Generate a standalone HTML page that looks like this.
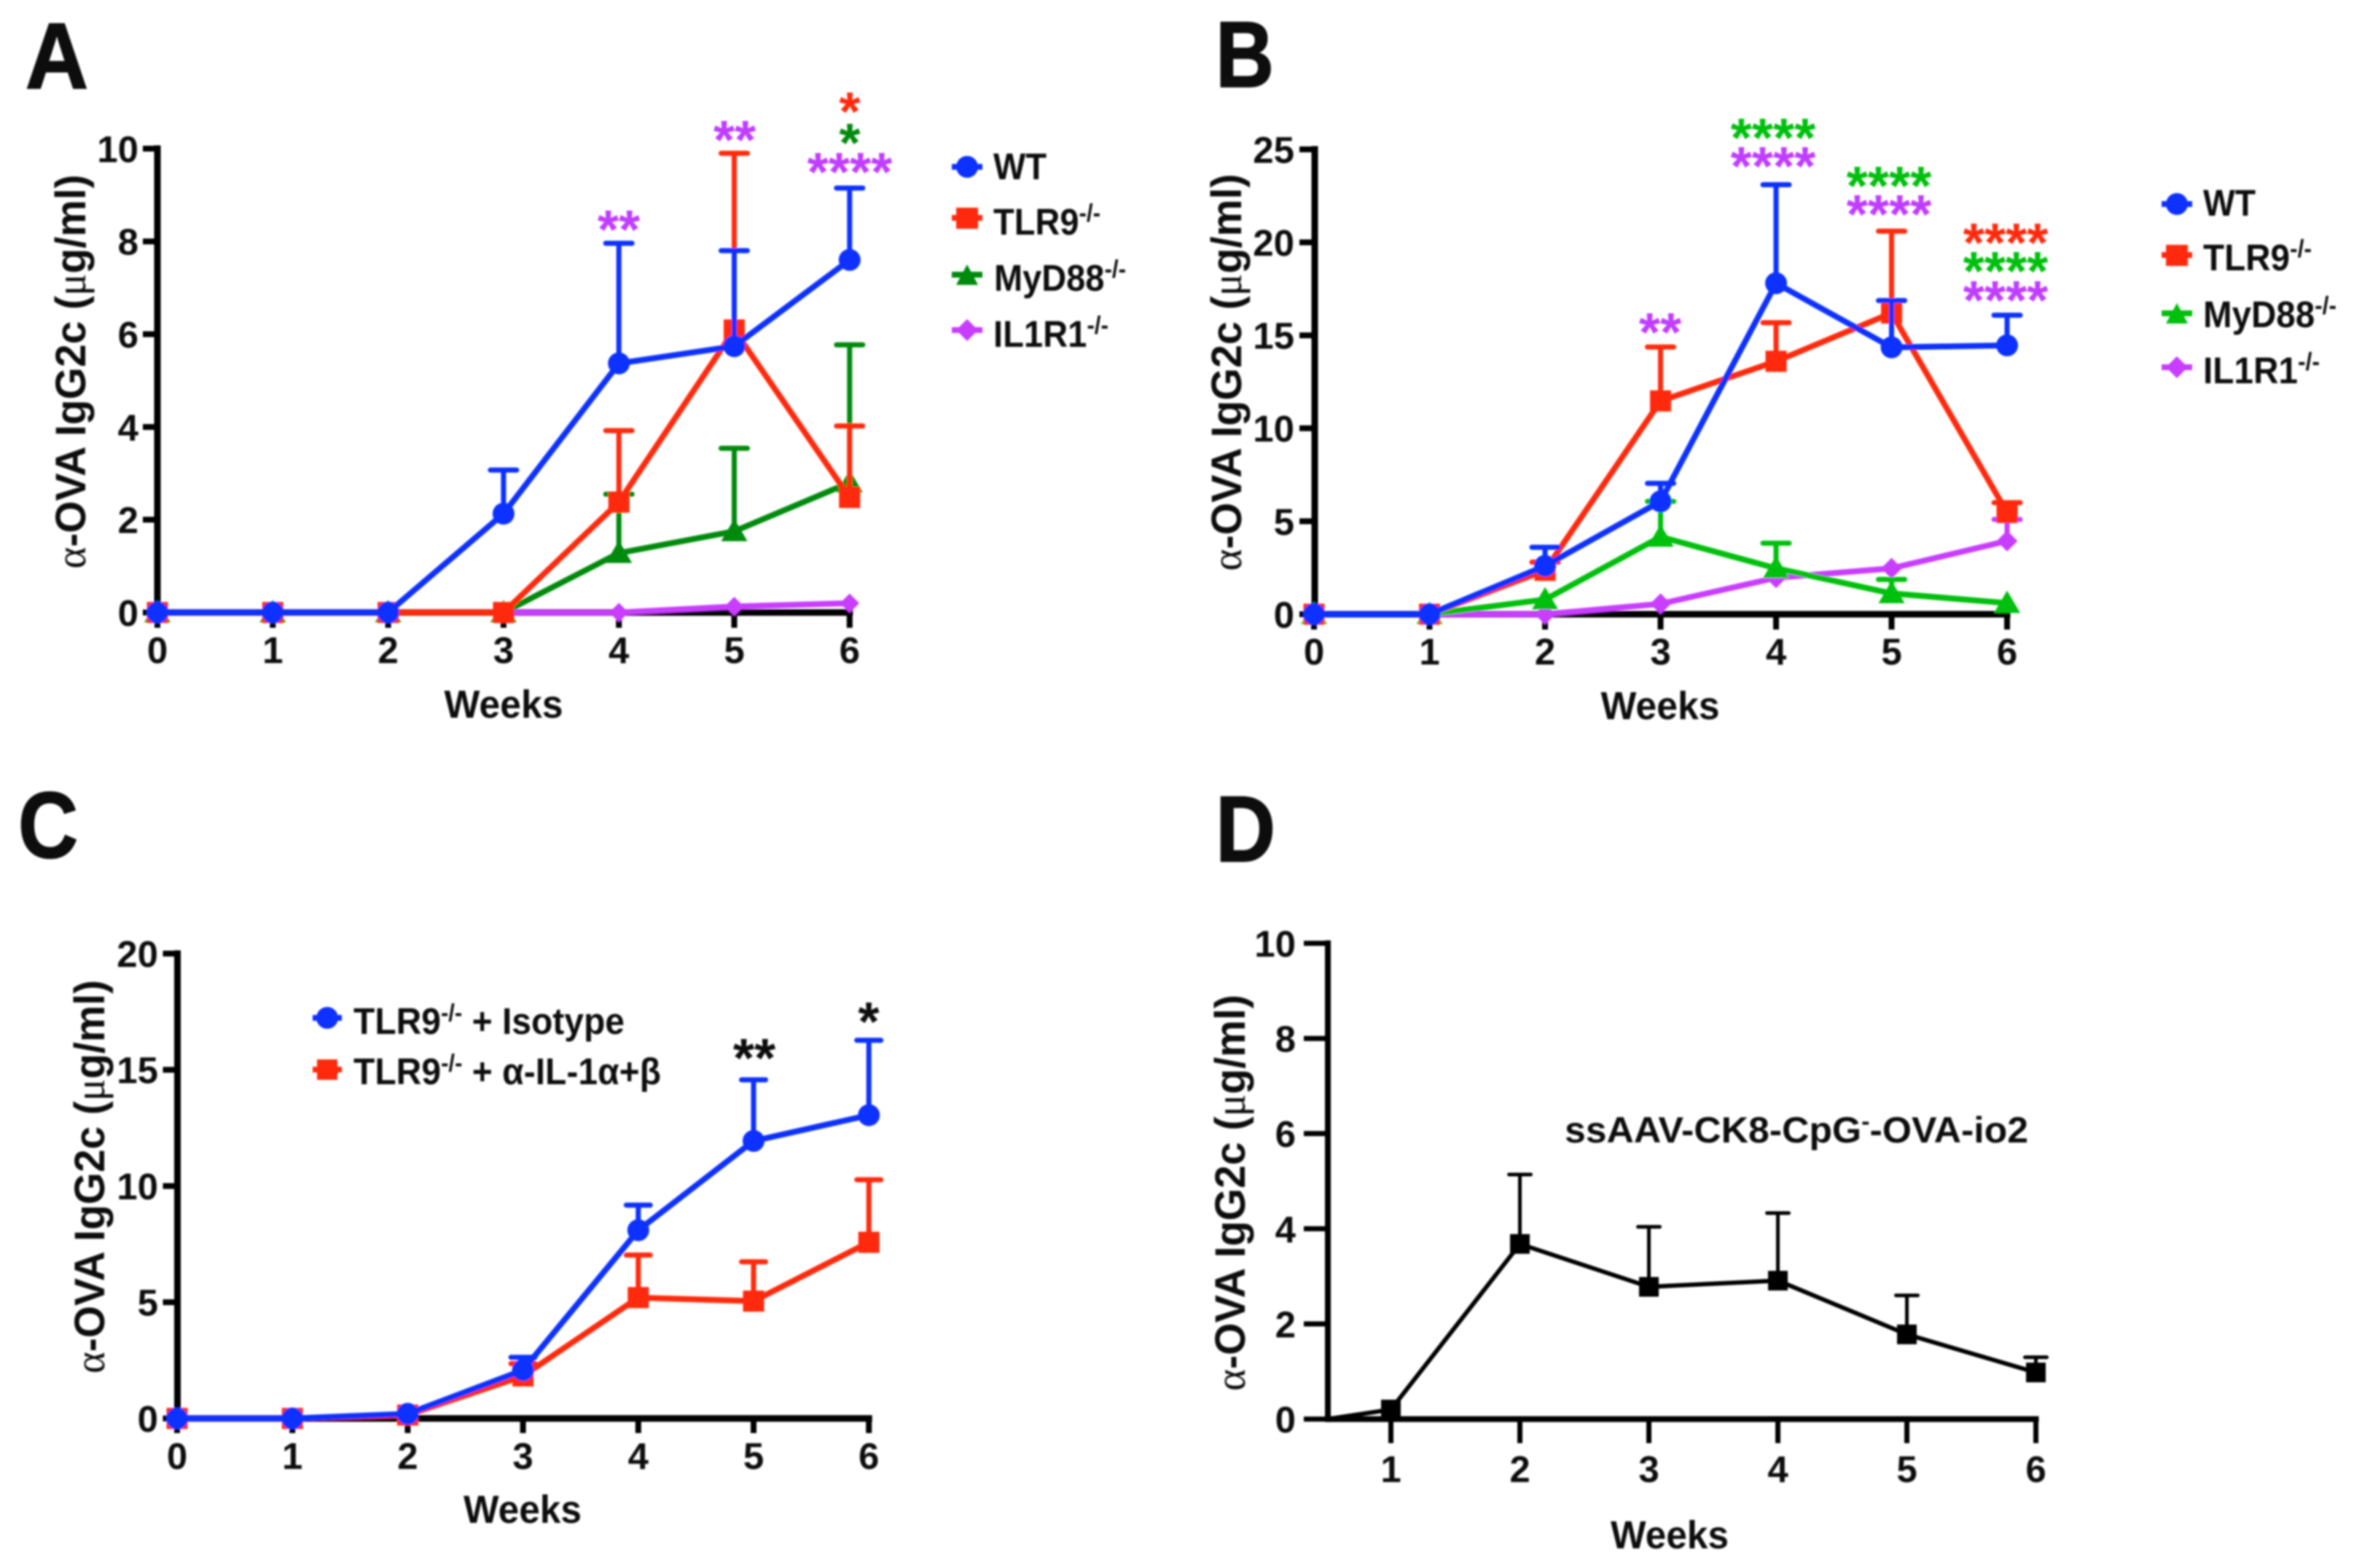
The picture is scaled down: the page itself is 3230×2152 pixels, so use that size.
<!DOCTYPE html>
<html lang="en">
<head>
<meta charset="utf-8">
<title>Anti-OVA IgG2c time courses</title>
<style>
html,body{margin:0;padding:0;background:#fff;}
svg{display:block;}
text{font-family:"Liberation Sans",sans-serif;font-weight:bold;fill:#111;}
.sym{font-family:"Liberation Serif",serif;font-weight:normal;}
.letter{font-size:128px;stroke:#111;stroke-width:2px;}
.title{font-size:58px;}
.weeks{font-size:54px;text-anchor:middle;}
.leg{font-size:51px;}
.star{font-size:75px;text-anchor:middle;}
</style>
</head>
<body>
<svg id="fig" xmlns="http://www.w3.org/2000/svg" width="3230" height="2152" viewBox="0 0 3230 2152">
<defs><filter id="soft" x="0" y="0" width="100%" height="100%"><feGaussianBlur stdDeviation="1.3"/></filter></defs>
<rect width="3230" height="2152" fill="#fff"/>
<g id="root" filter="url(#soft)">
  <g id="plots"></g>

  <text class="letter" x="35" y="121" textLength="86" lengthAdjust="spacingAndGlyphs">A</text>
  <text class="letter" x="1668" y="119" textLength="80" lengthAdjust="spacingAndGlyphs">B</text>
  <text class="letter" x="25" y="1177" textLength="82" lengthAdjust="spacingAndGlyphs">C</text>
  <text class="letter" x="1668" y="1182" textLength="82" lengthAdjust="spacingAndGlyphs">D</text>

  <text class="title" transform="translate(117,510) rotate(-90)" text-anchor="middle" textLength="541" lengthAdjust="spacingAndGlyphs"><tspan class="sym">α</tspan>-OVA IgG2c (<tspan class="sym">μ</tspan>g/ml)</text>
  <text class="title" transform="translate(1703,511) rotate(-90)" text-anchor="middle" textLength="545" lengthAdjust="spacingAndGlyphs"><tspan class="sym">α</tspan>-OVA IgG2c (<tspan class="sym">μ</tspan>g/ml)</text>
  <text class="title" transform="translate(143,1615) rotate(-90)" text-anchor="middle" textLength="540" lengthAdjust="spacingAndGlyphs"><tspan class="sym">α</tspan>-OVA IgG2c (<tspan class="sym">μ</tspan>g/ml)</text>
  <text class="title" transform="translate(1708,1637) rotate(-90)" text-anchor="middle" textLength="544" lengthAdjust="spacingAndGlyphs"><tspan class="sym">α</tspan>-OVA IgG2c (<tspan class="sym">μ</tspan>g/ml)</text>

  <text class="weeks" x="691" y="985" textLength="163" lengthAdjust="spacingAndGlyphs">Weeks</text>
  <text class="weeks" x="2278" y="987" textLength="163" lengthAdjust="spacingAndGlyphs">Weeks</text>
  <text class="weeks" x="717" y="2090" textLength="162" lengthAdjust="spacingAndGlyphs">Weeks</text>
  <text class="weeks" x="2291" y="2125" textLength="162" lengthAdjust="spacingAndGlyphs">Weeks</text>

  <g>
    <g>
      <line x1="1306" x2="1348" y1="229" y2="229" stroke="#0a32ff" stroke-width="8"/>
      <circle cx="1327" cy="229" r="15" fill="#0a32ff"/>
      <text class="leg" x="1363" y="246" textLength="73" lengthAdjust="spacingAndGlyphs">WT</text>
    </g>
    <g>
      <line x1="1306" x2="1348" y1="299" y2="299" stroke="#ff2a0c" stroke-width="8"/>
      <rect x="1312" y="285" width="30" height="29" fill="#ff2a0c"/>
      <text class="leg" x="1363" y="322" textLength="147" lengthAdjust="spacingAndGlyphs">TLR9<tspan dy="-18" font-size="34">-/-</tspan></text>
    </g>
    <g>
      <line x1="1306" x2="1348" y1="377" y2="377" stroke="#068a0c" stroke-width="8"/>
      <path d="M1327 363L1342 391H1312Z" fill="#068a0c"/>
      <text class="leg" x="1364" y="399" textLength="181" lengthAdjust="spacingAndGlyphs">MyD88<tspan dy="-18" font-size="34">-/-</tspan></text>
    </g>
    <g>
      <line x1="1306" x2="1348" y1="453" y2="453" stroke="#c83cff" stroke-width="8"/>
      <path d="M1327 438L1342 453L1327 468L1312 453Z" fill="#c83cff"/>
      <text class="leg" x="1363" y="476" textLength="158" lengthAdjust="spacingAndGlyphs">IL1R1<tspan dy="-18" font-size="34">-/-</tspan></text>
    </g>
  </g>

  <g>
    <g>
      <line x1="2966" x2="3008" y1="280" y2="280" stroke="#0a32ff" stroke-width="8"/>
      <circle cx="2987" cy="280" r="15" fill="#0a32ff"/>
      <text class="leg" x="3023" y="296" textLength="72" lengthAdjust="spacingAndGlyphs">WT</text>
    </g>
    <g>
      <line x1="2966" x2="3008" y1="350" y2="350" stroke="#ff2a0c" stroke-width="8"/>
      <rect x="2972" y="336" width="30" height="29" fill="#ff2a0c"/>
      <text class="leg" x="3023" y="371" textLength="149" lengthAdjust="spacingAndGlyphs">TLR9<tspan dy="-18" font-size="34">-/-</tspan></text>
    </g>
    <g>
      <line x1="2966" x2="3008" y1="430" y2="430" stroke="#06c00c" stroke-width="8"/>
      <path d="M2987 416L3002 444H2972Z" fill="#06c00c"/>
      <text class="leg" x="3023" y="449" textLength="183" lengthAdjust="spacingAndGlyphs">MyD88<tspan dy="-18" font-size="34">-/-</tspan></text>
    </g>
    <g>
      <line x1="2966" x2="3008" y1="504" y2="504" stroke="#c83cff" stroke-width="8"/>
      <path d="M2987 489L3002 504L2987 519L2972 504Z" fill="#c83cff"/>
      <text class="leg" x="3023" y="526" textLength="160" lengthAdjust="spacingAndGlyphs">IL1R1<tspan dy="-18" font-size="34">-/-</tspan></text>
    </g>
  </g>

  <g>
    <g>
      <line x1="429" x2="469" y1="1397" y2="1397" stroke="#0a32ff" stroke-width="8"/>
      <circle cx="449" cy="1397" r="15" fill="#0a32ff"/>
      <text class="leg" x="485" y="1419" font-size="50" textLength="372" lengthAdjust="spacingAndGlyphs">TLR9<tspan dy="-18" font-size="33">-/-</tspan><tspan dy="18"> + Isotype</tspan></text>
    </g>
    <g>
      <line x1="429" x2="469" y1="1468" y2="1468" stroke="#ff2a0c" stroke-width="8"/>
      <rect x="435" y="1454" width="28" height="28" fill="#ff2a0c"/>
      <text class="leg" x="485" y="1488" font-size="50" textLength="422" lengthAdjust="spacingAndGlyphs">TLR9<tspan dy="-18" font-size="33">-/-</tspan><tspan dy="18"> + α-IL-1α+β</tspan></text>
    </g>
  </g>

  <text font-size="50" x="2147" y="1568" textLength="636" lengthAdjust="spacingAndGlyphs">ssAAV-CK8-CpG<tspan dy="-18" font-size="33">-</tspan><tspan dy="18">-OVA-io2</tspan></text>

  <g>
    <text class="star" style="fill:#c03cff" x="849" y="341">**</text>
    <text class="star" style="fill:#c03cff" x="1008" y="218">**</text>
    <text class="star" style="fill:#ff2a0c" x="1166" y="179">*</text>
    <text class="star" style="fill:#068a0c" x="1166" y="222">*</text>
    <text class="star" style="fill:#c03cff" x="1166" y="262">****</text>
  </g>
  <g>
    <text class="star" style="fill:#c03cff" x="2278" y="482">**</text>
    <text class="star" style="fill:#06c00c" x="2433" y="215">****</text>
    <text class="star" style="fill:#c03cff" x="2433" y="254">****</text>
    <text class="star" style="fill:#06c00c" x="2592" y="281">****</text>
    <text class="star" style="fill:#c03cff" x="2592" y="320">****</text>
    <text class="star" style="fill:#ff2a0c" x="2752" y="359">****</text>
    <text class="star" style="fill:#06c00c" x="2752" y="398">****</text>
    <text class="star" style="fill:#c03cff" x="2752" y="438">****</text>
  </g>
  <g>
    <text class="star" x="1035" y="1478">**</text>
    <text class="star" x="1192" y="1428">*</text>
  </g>
</g>
</svg>
<script>
// Panel A data (ug/ml)
const weeksA = [0, 1, 2, 3, 4, 5, 6];
const yTicksA = [0, 2, 4, 6, 8, 10];
const wtA = [0, 0, 0, 2.13, 5.37, 5.74, 7.6];
const wtATop = [null, null, null, 3.07, 7.96, 7.8, 9.15];
const tlr9A = [0, 0, 0, 0, 2.38, 6.09, 2.48];
const tlr9ATop = [null, null, null, null, 3.92, 9.9, 4.02];
const myd88A = [0, 0, 0, 0, 1.28, 1.75, 2.8];
const myd88ATop = [null, null, null, null, 2.55, 3.54, 5.77];
const il1r1A = [0, 0, 0, 0, 0, 0.13, 0.2];
const il1r1ATop = [null, null, null, null, null, null, null];

// Panel B data
const weeksB = [0, 1, 2, 3, 4, 5, 6];
const yTicksB = [0, 5, 10, 15, 20, 25];
const wtB = [0, 0, 2.6, 6.07, 17.8, 14.35, 14.46];
const wtBTop = [null, null, 3.6, 7.04, 23.1, 16.87, 16.08];
const tlr9B = [0, 0, 2.36, 11.47, 13.6, 16.2, 5.47];
const tlr9BTop = [null, null, 2.8, 14.37, 15.68, 20.6, 6.0];
const myd88B = [0, 0, 0.79, 4.16, 2.47, 1.12, 0.6];
const myd88BTop = [null, null, null, 6.07, 3.82, 1.87, null];
const il1r1B = [0, 0, 0, 0.56, 1.96, 2.47, 3.94];
const il1r1BTop = [null, null, null, null, null, null, 5.1];

// Panel C data
const weeksC = [0, 1, 2, 3, 4, 5, 6];
const yTicksC = [0, 5, 10, 15, 20];
const isotypeC = [0, 0, 0.2, 2.08, 8.1, 11.94, 13.05];
const isotypeCTop = [null, null, null, 2.63, 9.18, 14.57, 16.27];
const antiIl1C = [0, 0, 0.15, 1.83, 5.2, 5.05, 7.58];
const antiIl1CTop = [null, null, null, 2.36, 7.03, 6.74, 10.27];

// Panel D data
const weeksD = [0.51, 1, 2, 3, 4, 5, 6];
const xTicksD = [1, 2, 3, 4, 5, 6];
const yTicksD = [0, 2, 4, 6, 8, 10];
const vectorD = [0, 0.2, 3.68, 2.78, 2.91, 1.78, 0.98];
const vectorDTop = [null, null, 5.14, 4.04, 4.33, 2.6, 1.3];

const BLUE = '#0a32ff', RED = '#ff2a0c', DGREEN = '#068a0c', LGREEN = '#06c00c', PURPLE = '#c83cff', BLACK = '#000';
const NS = 'http://www.w3.org/2000/svg';
const plots = document.getElementById('plots');

function make(tag, attrs, parent) {
  const node = document.createElementNS(NS, tag);
  for (const k in attrs) node.setAttribute(k, attrs[k]);
  parent.appendChild(node);
  return node;
}

function markerPath(kind, cx, cy, s) {
  if (kind === 'square') return `M${cx-s} ${cy-s}H${cx+s}V${cy+s}H${cx-s}Z`;
  if (kind === 'triangle') return `M${cx} ${cy-s*1.15}L${cx+s*1.2} ${cy+s*0.9}H${cx-s*1.2}Z`;
  if (kind === 'diamond') return `M${cx} ${cy-s*1.1}L${cx+s*1.1} ${cy}L${cx} ${cy+s*1.1}L${cx-s*1.1} ${cy}Z`;
  return `M${cx-s} ${cy}A${s} ${s} 0 1 0 ${cx+s} ${cy}A${s} ${s} 0 1 0 ${cx-s} ${cy}Z`;
}

function drawPanel(p) {
  const xScale = w => p.x0 + (w - p.xFirst) * p.xStep;
  const yScale = v => p.y0 - v * p.yUnit;
  const g = make('g', {}, plots);
  
  

  const yAxis = make('line', {x1: p.axisX, x2: p.axisX, y1: yScale(p.yTicks[p.yTicks.length - 1]) - p.axisW / 2, y2: p.y0 + p.axisW / 2, stroke: '#000', 'stroke-width': p.axisW}, g);
  
  
  const xAxis = make('line', {x1: p.axisX, x2: xScale(p.xTicks[p.xTicks.length - 1]) + p.axisW / 2, y1: p.y0, y2: p.y0, stroke: '#000', 'stroke-width': p.axisW}, g);
  
  

  p.yTicks.forEach(t => {
    const tick = make('line', {x1: p.axisX - p.yTickLen, x2: p.axisX, y1: yScale(t), y2: yScale(t), stroke: '#000', 'stroke-width': p.axisW - 1}, g);
    
    
    const label = make('text', {x: p.yLabelX, y: yScale(t) + p.tickFont * 0.36, 'text-anchor': 'end', 'font-size': p.tickFont}, g);
    
    
    label.textContent = t;
  });
  p.xTicks.forEach(t => {
    const tick = make('line', {x1: xScale(t), x2: xScale(t), y1: p.y0, y2: p.y0 + p.xTickLen, stroke: '#000', 'stroke-width': p.axisW - 1}, g);
    
    
    const label = make('text', {x: xScale(t), y: p.xLabelY, 'text-anchor': 'middle', 'font-size': p.tickFont}, g);
    
    
    label.textContent = t;
  });

  p.series.forEach(s => {
    const sg = make('g', {}, g);
    
    

    s.tops.forEach((top, i) => {
      if (top === null) return;
      const x = xScale(p.weeks[i]);
      const stem = make('line', {x1: x, x2: x, y1: yScale(s.values[i]), y2: yScale(top), stroke: s.color, 'stroke-width': p.stemW}, sg);
      
      
      const cap = make('line', {x1: x - p.capW / 2, x2: x + p.capW / 2, y1: yScale(top), y2: yScale(top), stroke: s.color, 'stroke-width': p.stemW, 'stroke-linecap': 'round'}, sg);
      
      
    });

    const pts = s.values.map((v, i) => xScale(p.weeks[i]) + ',' + yScale(v)).join(' ');
    const line = make('polyline', {points: pts, fill: 'none', stroke: s.color, 'stroke-width': p.lineW, 'stroke-linejoin': 'round'}, sg);
    
    

    s.values.forEach((v, i) => {
      if (p.skipFirstMarker && i === 0) return;
      const m = make('path', {d: markerPath(s.marker, xScale(p.weeks[i]), yScale(v), s.size), fill: s.color}, sg);
      
      
    });
  });
}

drawPanel({id: 'a', x0: 216, xFirst: 0, xStep: 158.3, y0: 840.6, yUnit: 63.66, axisX: 216, axisW: 9, yTickLen: 20, xTickLen: 21,
  yLabelX: 190, xLabelY: 910, tickFont: 51, stemW: 7, capW: 36, lineW: 8, weeks: weeksA, xTicks: weeksA, yTicks: yTicksA,
  series: [
    {name: 'il1r1', color: PURPLE, values: il1r1A, tops: il1r1ATop, marker: 'diamond', size: 12},
    {name: 'myd88', color: DGREEN, values: myd88A, tops: myd88ATop, marker: 'triangle', size: 15},
    {name: 'tlr9', color: RED, values: tlr9A, tops: tlr9ATop, marker: 'square', size: 14.5},
    {name: 'wt', color: BLUE, values: wtA, tops: wtATop, marker: 'circle', size: 15}
  ]});

drawPanel({id: 'b', x0: 1803, xFirst: 0, xStep: 158.5, y0: 843, yUnit: 25.52, axisX: 1804, axisW: 9, yTickLen: 21, xTickLen: 21,
  yLabelX: 1776, xLabelY: 912, tickFont: 51, stemW: 7, capW: 36, lineW: 8, weeks: weeksB, xTicks: weeksB, yTicks: yTicksB,
  series: [
    {name: 'il1r1', color: PURPLE, values: il1r1B, tops: il1r1BTop, marker: 'diamond', size: 13},
    {name: 'myd88', color: LGREEN, values: myd88B, tops: myd88BTop, marker: 'triangle', size: 15},
    {name: 'tlr9', color: RED, values: tlr9B, tops: tlr9BTop, marker: 'square', size: 14.5},
    {name: 'wt', color: BLUE, values: wtB, tops: wtBTop, marker: 'circle', size: 15}
  ]});

drawPanel({id: 'c', x0: 243, xFirst: 0, xStep: 158.2, y0: 1946.8, yUnit: 31.9, axisX: 243.5, axisW: 9, yTickLen: 20, xTickLen: 20,
  yLabelX: 217, xLabelY: 2016, tickFont: 51, stemW: 7, capW: 33, lineW: 8, weeks: weeksC, xTicks: weeksC, yTicks: yTicksC,
  series: [
    {name: 'anti-il1', color: RED, values: antiIl1C, tops: antiIl1CTop, marker: 'square', size: 14.5},
    {name: 'isotype', color: BLUE, values: isotypeC, tops: isotypeCTop, marker: 'circle', size: 15}
  ]});

drawPanel({id: 'd', x0: 1908.5, xFirst: 1, xStep: 177, y0: 1947.6, yUnit: 65.3, axisX: 1822, axisW: 8, yTickLen: 33, xTickLen: 33,
  yLabelX: 1778, xLabelY: 2034, tickFont: 51, stemW: 5, capW: 30, lineW: 6, skipFirstMarker: true, weeks: weeksD, xTicks: xTicksD, yTicks: yTicksD,
  series: [
    {name: 'vector', color: BLACK, values: vectorD, tops: vectorDTop, marker: 'square', size: 13.5}
  ]});
</script>
</body>
</html>
